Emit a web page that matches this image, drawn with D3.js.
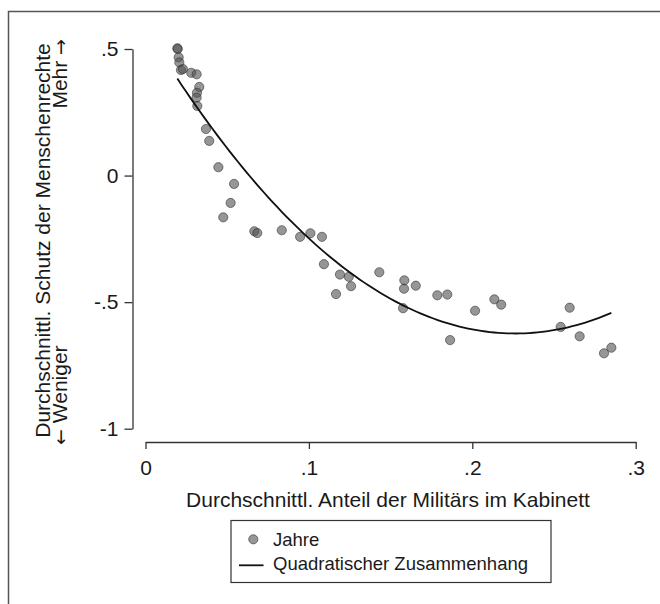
<!DOCTYPE html>
<html>
<head>
<meta charset="utf-8">
<script src="https://cdn.jsdelivr.net/npm/d3@7"></script>
<style>
  body { margin: 0; background: #fff; }
  svg { display: block; font-family: "Liberation Sans", Arial, sans-serif; }
</style>
</head>
<body>
<div id="chart"></div>
<script>
  // Anteil der Militärs im Kabinett (x) / Schutz der Menschenrechte (y), one point per Jahr
  var militaer = [
    0.0195, 0.0197, 0.0203, 0.0207, 0.0217, 0.0229, 0.0280, 0.0313, 0.0329, 0.0315,
    0.0313, 0.0317, 0.0370, 0.0390, 0.0446, 0.0542, 0.0521, 0.0476, 0.0666, 0.0684,
    0.0834, 0.0946, 0.1009, 0.1080, 0.1092, 0.1190, 0.1244, 0.1258, 0.1166, 0.1431,
    0.1584, 0.1582, 0.1654, 0.1576, 0.1786, 0.1847, 0.1864, 0.2017, 0.2135, 0.2177,
    0.2541, 0.2596, 0.2657, 0.2806, 0.2851
  ];
  var schutz = [
    0.503, 0.500, 0.467, 0.447, 0.417, 0.421, 0.406, 0.400, 0.350, 0.327,
    0.308, 0.275, 0.184, 0.137, 0.033, -0.033, -0.108, -0.165, -0.220, -0.227,
    -0.216, -0.242, -0.228, -0.242, -0.350, -0.391, -0.400, -0.437, -0.468, -0.382,
    -0.414, -0.447, -0.435, -0.524, -0.473, -0.470, -0.650, -0.534, -0.489, -0.510,
    -0.598, -0.522, -0.635, -0.702, -0.680
  ];
  var xTicks = [0, 0.1, 0.2, 0.3];
  var yTicks = [0.5, 0, -0.5, -1];

  var width = 660, height = 604;
  var svg = d3.select("#chart").append("svg")
    .attr("width", width)
    .attr("height", height);

  // outer graph frame (cut at right / bottom)
  svg.append("rect")
    .attr("x", 8.5).attr("y", 11.5)
    .attr("width", 720).attr("height", 700)
    .attr("fill", "none")
    .attr("stroke", "#555")
    .attr("stroke-width", 1.5);

  var x = d3.scaleLinear().domain([0, 0.3]).range([145.5, 635.7]);
  var y = d3.scaleLinear().domain([-1, 0.5]).range([428.7, 49]);

  // stata style labels: .5, 0, -.5, -1
  var fmt = function (d) {
    return String(d).replace(/^(-?)0\./, "$1.");
  };

  // y axis
  var yAxis = svg.append("g")
    .attr("transform", "translate(132.5,0)")
    .call(d3.axisLeft(y).tickValues(yTicks).tickFormat(fmt)
      .tickSize(8).tickSizeOuter(0).tickPadding(6));
  yAxis.select(".domain").attr("stroke", "#333").attr("stroke-width", 1.3);
  yAxis.selectAll(".tick line").attr("stroke", "#333").attr("stroke-width", 1.3);
  yAxis.selectAll(".tick text")
    .attr("font-size", 21).attr("fill", "#1a1a1a")
    .attr("font-family", "Liberation Sans, Arial, sans-serif");

  // x axis
  var xAxis = svg.append("g")
    .attr("transform", "translate(0,442)")
    .call(d3.axisBottom(x).tickValues(xTicks).tickFormat(fmt)
      .tickSize(7).tickSizeOuter(0));
  xAxis.select(".domain").attr("stroke", "#333").attr("stroke-width", 1.3);
  xAxis.selectAll(".tick line").attr("stroke", "#333").attr("stroke-width", 1.3);
  xAxis.selectAll(".tick text")
    .attr("y", 33).attr("dy", 0)
    .attr("font-size", 21).attr("fill", "#1a1a1a")
    .attr("font-family", "Liberation Sans, Arial, sans-serif");

  // axis titles
  svg.append("text")
    .attr("x", 388).attr("y", 507)
    .attr("text-anchor", "middle")
    .attr("font-size", 21).attr("fill", "#1a1a1a")
    .text("Durchschnittl. Anteil der Militärs im Kabinett");

  svg.append("text")
    .attr("transform", "translate(50,240.5) rotate(-90)")
    .attr("text-anchor", "middle")
    .attr("font-size", 21).attr("fill", "#1a1a1a")
    .text("Durchschnittl. Schutz der Menschenrechte");

  var lo = svg.append("text")
    .attr("transform", "translate(67,445) rotate(-90)")
    .attr("text-anchor", "start")
    .attr("font-size", 21).attr("fill", "#1a1a1a");
  lo.append("tspan").attr("font-family", "DejaVu Sans").attr("font-size", 19).text("\u2190");
  lo.append("tspan").text(" Weniger");

  var hi = svg.append("text")
    .attr("transform", "translate(67,39) rotate(-90)")
    .attr("text-anchor", "end")
    .attr("font-size", 21).attr("fill", "#1a1a1a");
  hi.append("tspan").text("Mehr ");
  hi.append("tspan").attr("font-family", "DejaVu Sans").attr("font-size", 19).text("\u2192");

  // scatter
  var pts = militaer.map(function (d, i) { return [d, schutz[i]]; });
  svg.append("g").selectAll("circle")
    .data(pts)
    .enter()
    .append("circle")
      .attr("cx", function (d) { return x(d[0]); })
      .attr("cy", function (d) { return y(d[1]); })
      .attr("r", 4.6)
      .attr("fill", "rgba(80,80,80,0.6)")
      .attr("stroke", "rgba(40,40,40,0.55)")
      .attr("stroke-width", 1);

  // quadratic fit (least squares, like qfit)
  function qfit(xs, ys) {
    var s = [0, 0, 0, 0, 0], t = [0, 0, 0];
    xs.forEach(function (xi, i) {
      var p = 1;
      for (var k = 0; k < 5; k++) { s[k] += p; if (k < 3) t[k] += p * ys[i]; p *= xi; }
    });
    var A = [[s[0], s[1], s[2], t[0]], [s[1], s[2], s[3], t[1]], [s[2], s[3], s[4], t[2]]];
    for (var c = 0; c < 3; c++) {
      for (var r = c + 1; r < 3; r++) {
        var f = A[r][c] / A[c][c];
        for (var k = c; k < 4; k++) A[r][k] -= f * A[c][k];
      }
    }
    var b = [0, 0, 0];
    for (var r = 2; r >= 0; r--) {
      var v = A[r][3];
      for (var k = r + 1; k < 3; k++) v -= A[r][k] * b[k];
      b[r] = v / A[r][r];
    }
    return b;
  }
  var b = qfit(militaer, schutz);
  var xr = d3.extent(militaer);
  var fitPts = d3.range(0, 101).map(function (i) {
    var xi = xr[0] + (xr[1] - xr[0]) * i / 100;
    return [xi, b[0] + b[1] * xi + b[2] * xi * xi];
  });
  svg.append("path")
    .datum(fitPts)
    .attr("fill", "none")
    .attr("stroke", "#111")
    .attr("stroke-width", 1.8)
    .attr("d", d3.line()
      .x(function (d) { return x(d[0]); })
      .y(function (d) { return y(d[1]); }));

  // legend
  var lg = svg.append("g");
  lg.append("rect")
    .attr("x", 231).attr("y", 520.5)
    .attr("width", 320).attr("height", 62)
    .attr("fill", "#fff")
    .attr("stroke", "#333")
    .attr("stroke-width", 1.2);
  lg.append("circle")
    .attr("cx", 253.3).attr("cy", 539.3).attr("r", 4.6)
    .attr("fill", "rgba(80,80,80,0.6)")
    .attr("stroke", "rgba(40,40,40,0.55)");
  lg.append("text")
    .attr("x", 273).attr("y", 545.5)
    .attr("font-size", 18.5).attr("fill", "#1a1a1a")
    .text("Jahre");
  lg.append("line")
    .attr("x1", 239).attr("x2", 263.5)
    .attr("y1", 565.3).attr("y2", 565.3)
    .attr("stroke", "#111").attr("stroke-width", 1.8);
  lg.append("text")
    .attr("x", 273).attr("y", 570)
    .attr("font-size", 18.5).attr("fill", "#1a1a1a")
    .text("Quadratischer Zusammenhang");
</script>
</body>
</html>
